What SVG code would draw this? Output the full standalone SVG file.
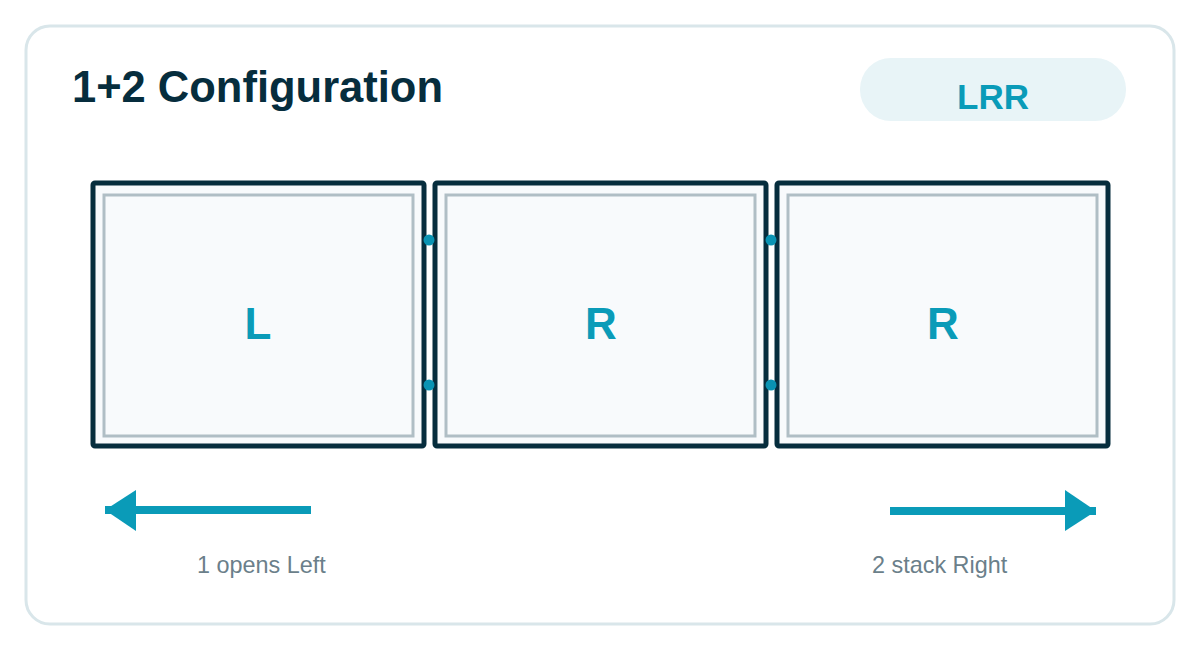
<svg xmlns="http://www.w3.org/2000/svg" width="1200" height="650" viewBox="0 0 1200 650">
  <style>
    .frame { fill: #f8fafc; stroke: #062d3d; stroke-width: 5; }
    .glass { fill: #f8fafc; stroke: #b0bec5; stroke-width: 3; }
    .plabel { font-family: "Liberation Sans", Arial, sans-serif; font-weight: bold; font-size: 44px; fill: #0a9bb8; text-anchor: middle; }
    .hinge { fill: #0a93b3; }
    .cap { font-family: "Liberation Sans", Arial, sans-serif; font-size: 23.4px; fill: #6b7f8a; }
    .arrow { stroke: #0a9bb8; stroke-width: 8; fill: none; }
    .head { fill: #0a9bb8; }
  </style>
  <rect x="0" y="0" width="1200" height="650" fill="#ffffff"/>
  <rect id="card" x="26" y="26" width="1148" height="598" rx="24" fill="#ffffff" stroke="#d9e6ea" stroke-width="3"/>
  <text id="title" x="72" y="102" font-family="Liberation Sans, Arial, sans-serif" font-weight="bold" font-size="43.5" fill="#062d3d">1+2 Configuration</text>
  <g id="badge">
    <rect x="860" y="58" width="266" height="63" rx="31" fill="#e8f4f7"/>
    <text x="993" y="109" font-family="Liberation Sans, Arial, sans-serif" font-weight="bold" font-size="35" fill="#0a9bb8" text-anchor="middle">LRR</text>
  </g>
  <g id="panel-1">
    <rect class="frame" x="93" y="183" width="331" height="263" rx="2"/>
    <rect class="glass" x="104" y="195" width="309" height="241"/>
    <text class="plabel" x="258" y="339">L</text>
  </g>
  <g id="panel-2">
    <rect class="frame" x="435" y="183" width="331" height="263" rx="2"/>
    <rect class="glass" x="446" y="195" width="309" height="241"/>
    <text class="plabel" x="601" y="339">R</text>
  </g>
  <g id="panel-3">
    <rect class="frame" x="777" y="183" width="331" height="263" rx="2"/>
    <rect class="glass" x="788" y="195" width="309" height="241"/>
    <text class="plabel" x="943" y="339">R</text>
  </g>
  <g id="hinges">
    <circle class="hinge" cx="429" cy="240" r="5.5"/>
    <circle class="hinge" cx="429" cy="385" r="5.5"/>
    <circle class="hinge" cx="771" cy="240" r="5.5"/>
    <circle class="hinge" cx="771" cy="385" r="5.5"/>
  </g>
  <g id="connectors">
    <line class="arrow" x1="311" y1="510" x2="105" y2="510"/>
    <polygon class="head" points="105,510 136,490 136,531"/>
    <line class="arrow" x1="890" y1="511" x2="1096" y2="511"/>
    <polygon class="head" points="1096,511 1065,490 1065,531"/>
  </g>
  <text id="cap-left" class="cap" x="197" y="573">1 opens Left</text>
  <text id="cap-right" class="cap" x="872" y="573">2 stack Right</text>
</svg>
